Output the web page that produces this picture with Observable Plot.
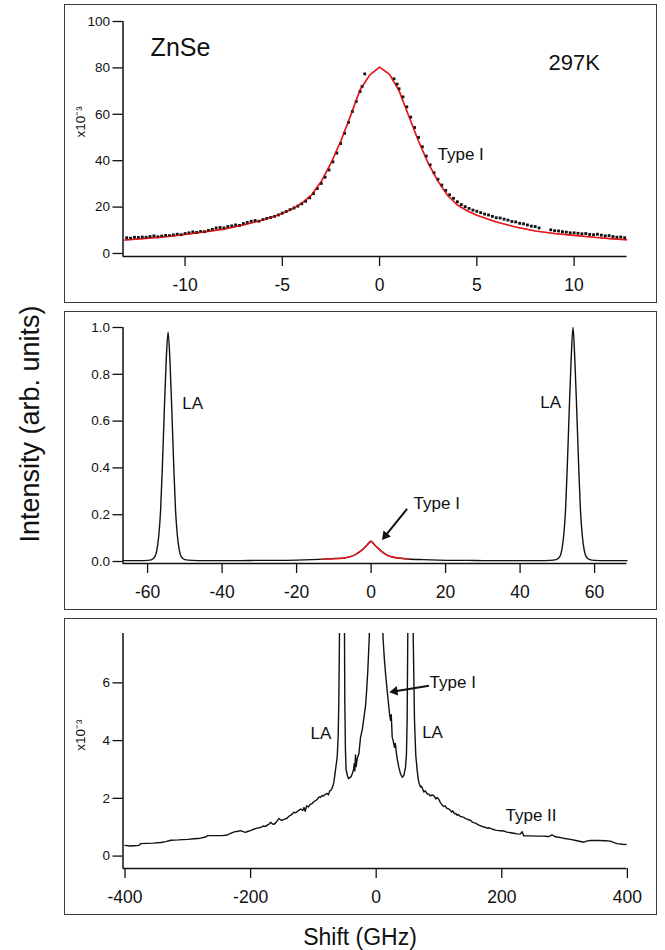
<!DOCTYPE html>
<html><head><meta charset="utf-8">
<script src="https://cdn.jsdelivr.net/npm/d3@7"></script>
<script src="https://cdn.jsdelivr.net/npm/@observablehq/plot@0.6"></script>
<style>
body{margin:0;background:#fff;}
#fig{position:relative;width:665px;height:950px;font-family:"Liberation Sans",Arial,Helvetica,sans-serif;color:#111;}
.panel{position:absolute;left:64px;width:593px;outline:1.5px solid #3a3a3a;outline-offset:-1.5px;}
.panel svg{display:block;}
#ylab{position:absolute;left:30px;top:424px;transform:translate(-50%,-50%) rotate(-90deg);font-size:27px;white-space:nowrap;}
#xlab{position:absolute;left:360px;top:937px;transform:translate(-50%,-50%);font-size:23px;white-space:nowrap;}
</style></head>
<body>
<div id="fig">
  <div class="panel" id="p1" style="top:4px;height:299px"></div>
  <div class="panel" id="p2" style="top:311px;height:299px"></div>
  <div class="panel" id="p3" style="top:618px;height:297px"></div>
  <div id="ylab">Intensity (arb. units)</div>
  <div id="xlab">Shift (GHz)</div>
</div>
<script>
// ---------- Panel 1: ZnSe 297K, Type I (x10^-3) ----------
const p1DataShift = [-13.0,-12.8,-12.6,-12.4,-12.2,-12.0,-11.8,-11.6,-11.4,-11.2,-11.0,-10.8,-10.6,-10.4,-10.2,-10.0,-9.8,-9.6,-9.4,-9.2,-9.0,-8.8,-8.6,-8.4,-8.2,-8.0,-7.8,-7.6,-7.4,-7.2,-7.0,-6.8,-6.6,-6.4,-6.2,-6.0,-5.8,-5.6,-5.4,-5.2,-5.0,-4.8,-4.6,-4.4,-4.2,-4.0,-3.8,-3.6,-3.4,-3.2,-3.0,-2.8,-2.6,-2.4,-2.2,-2.0,-1.8,-1.6,-1.4,-1.2,-1.0,-0.9,-0.76,
  0.74,0.9,1.0,1.2,1.4,1.6,1.8,2.0,2.2,2.4,2.6,2.8,3.0,3.2,3.4,3.6,3.8,4.0,4.2,4.4,4.6,4.8,5.0,5.2,5.4,5.6,5.8,6.0,6.2,6.4,6.6,6.8,7.0,7.2,7.4,7.6,7.8,8.0,8.2,
  8.8,9.0,9.2,9.4,9.6,9.8,10.0,10.2,10.4,10.6,10.8,11.0,11.2,11.4,11.6,11.8,12.0,12.2,12.4,12.6];
const p1DataIntensity = [6.8,6.6,7.0,6.9,7.1,7.0,7.3,7.6,7.2,7.5,7.8,7.7,8.0,8.3,8.1,8.6,8.9,9.3,9.1,9.5,9.4,9.9,10.4,11.0,11.2,11.0,11.6,11.9,12.3,12.1,12.9,13.4,13.9,14.2,13.9,14.6,15.1,15.5,16.0,16.6,17.4,18.1,18.9,19.6,20.4,21.4,22.5,24.0,25.8,28.0,30.2,32.9,36.0,39.5,43.3,47.4,51.8,56.5,61.2,65.5,69.8,72.0,77.4,
  75.3,73.0,71.0,67.5,63.2,58.8,54.3,50.0,46.0,42.0,38.2,34.8,32.0,29.5,27.2,25.3,23.8,22.3,21.1,20.2,19.4,18.7,18.2,17.6,17.0,16.6,16.0,15.4,15.3,14.8,14.4,13.8,13.6,13.0,12.8,12.3,11.8,11.6,11.0,
  10.2,9.8,9.7,9.4,9.2,8.9,8.9,8.7,8.5,8.6,8.2,8.1,8.3,7.9,7.6,7.7,7.3,7.0,7.1,6.8];
const p1FitShift = [-13.1,-12,-11,-10,-9,-8,-7,-6,-5,-4.5,-4,-3.5,-3,-2.5,-2,-1.5,-1,-0.5,0,0.5,1,1.5,2,2.5,3,3.5,4,4.5,5,6,7,8,9,10,11,12,12.7];
const p1FitIntensity = [5.8,6.5,7.2,8.2,9.3,10.5,12.3,14.4,17.2,19.2,21.7,25.2,31.0,38.9,48.3,59.2,70.6,77.0,80.3,77.3,70.2,59.3,48.5,38.9,31.2,25.0,20.9,18.4,16.5,13.6,11.4,9.7,8.6,7.8,7.0,6.3,5.9];
const p1XTicks = [-10,-5,0,5,10];
const p1YTicks = [0,20,40,60,80,100];
const p1Labels = [
  {x:-11.77, y:88.4, text:"ZnSe", size:25},
  {x:8.69, y:82.3, text:"297K", size:22},
  {x:2.98, y:42.7, text:"Type I", size:17}
];

// ---------- Panel 2: full scale ----------
const p2DataShift = [-66.6,-64,-62,-60,-59,-58,-57.5,-57,-56.5,-56,-55.5,-55,-54.5,-54,-53.5,-53,-52.5,-52,-51.5,-51,-50,-48,-45,-40,-35,-30,-25,-20,-16,-13,-10,-8,-6,-4,-3,-2,-1,0,1,2,3,4,6,8,10,14,18,22,26,30,35,40,45,48,49.7,50.7,51.2,51.7,52.2,52.7,53.2,53.7,54.2,54.7,55.2,55.7,56.2,56.7,57.2,57.7,58.7,60,63,66,68.7];
const p2DataIntensity = [0.004,0.004,0.004,0.005,0.007,0.022,0.05,0.11,0.22,0.42,0.65,0.86,0.98,0.86,0.65,0.42,0.22,0.11,0.05,0.022,0.008,0.005,0.004,0.004,0.004,0.005,0.005,0.006,0.008,0.010,0.013,0.014,0.019,0.031,0.042,0.055,0.072,0.087,0.070,0.055,0.041,0.030,0.018,0.014,0.011,0.008,0.006,0.005,0.005,0.004,0.004,0.004,0.004,0.005,0.008,0.022,0.05,0.11,0.22,0.42,0.65,0.86,1.0,0.86,0.65,0.42,0.22,0.11,0.05,0.022,0.008,0.005,0.004,0.004,0.004];
const p2FitShift = [-13,-10,-8,-6,-5,-4,-3,-2,-1,-0.5,0,0.5,1,2,2.5,3,4,5,6,8,10];
const p2FitIntensity = [0.010,0.012,0.013,0.019,0.024,0.032,0.043,0.055,0.072,0.080,0.087,0.079,0.070,0.055,0.047,0.041,0.030,0.022,0.018,0.014,0.011];
const p2XTicks = [-60,-40,-20,0,20,40,60];
const p2YTicks = [0,0.2,0.4,0.6,0.8,1.0];
const p2Labels = [
  {x:-50.7, y:0.676, text:"LA"},
  {x:45.4, y:0.68, text:"LA"},
  {x:11.4, y:0.247, text:"Type I"}
];
const p2Arrows = [{x1:9.66, y1:0.225, x2:2.68, y2:0.087}];

// ---------- Panel 3: wide range (x10^-3) ----------
const p3DataShift = [-400,-392,-385,-378,-375,-365,-355,-343,-335,-327,-315,-300,-290,-280,-272,-268,-255,-245,-237,-232,-226,-220,-216,-212,-208,-204,-200,-195,-190,-184,-180,-176,-173,-170,-168,-165,-163,-160,-158,-155,-152,-150,-146,-142,-139,-136,-133,-131,-128,-125,-122,-120,-117,-115,-113,-111,-108,-105,-102,-99,-96,-94,-91,-89,-86,-84,-81,-78,-76,-74,-72,-70,-68,-67,-65,-62,-60.5,-59.5,-58.5,-57,-55.5,-54.5,-53.5,-52,-50.5,-50,-49,-48,-46,-44,-42,-40,-38,-36,-35,-34,-33,-32,-30,-27.5,-25,-22,-19.5,-17,-15,-13.3,-11,-9,-6,-3,-1,0,
  1,3,6,9,11,13.2,15,17.5,19.5,21.2,22.8,24,25.5,27,29.1,30.5,32.3,34,36,38.7,41.4,44,46.7,48.2,49.3,50.3,52,53.2,54.2,55.2,57,58.9,61,63,65.3,67,68,70.5,72,73.2,75.8,78,81.2,84,86.5,89,91.7,95,97,99.7,102,104,107.6,110,112,115,118.3,120,122,125,127,129,131,134,137,139.5,142,145,148,150.2,153,155,158,160.8,163,166,169,171.3,174,176,179,182,185,187,190,192.7,198,203.2,208,213.9,219,224.5,229,232.5,235,245,256.4,266,274,277.5,280,284,288.2,298,309.4,320,330.6,335,341.2,355,365,373,380,383.8,392,399.7];
const p3DataIntensity = [0.37,0.35,0.36,0.37,0.43,0.44,0.45,0.47,0.50,0.55,0.56,0.58,0.60,0.62,0.66,0.71,0.71,0.71,0.73,0.79,0.84,0.86,0.88,0.85,0.82,0.86,0.88,0.93,0.97,0.99,1.04,1.03,1.08,1.12,1.17,1.11,1.10,1.15,1.21,1.30,1.25,1.24,1.28,1.31,1.38,1.42,1.47,1.52,1.50,1.56,1.60,1.63,1.58,1.68,1.55,1.74,1.70,1.79,1.82,1.89,1.93,1.96,2.05,2.03,2.10,2.08,2.14,2.17,2.12,2.26,2.28,2.36,2.50,2.62,2.95,3.45,4.2,5.4,7.6,40,300,980,300,40,7.8,5.4,3.7,3.0,2.8,2.68,2.72,2.75,2.86,3.0,3.2,2.95,3.5,3.1,3.4,3.55,4.1,4.4,4.8,5.2,5.8,6.45,7.6,10,20,45,75,85,
  75,45,20,9,7.5,6.77,6.3,5.73,5.3,4.93,4.7,4.9,4.12,4.0,3.77,3.9,3.54,3.3,3.08,2.85,2.73,2.79,3.08,3.54,4.7,7.7,40,300,1000,300,40,7.7,4.7,3.5,2.97,2.65,2.55,2.39,2.42,2.37,2.22,2.26,2.16,2.14,2.08,2.12,2.09,1.98,2.03,1.97,1.86,1.80,1.72,1.74,1.66,1.64,1.58,1.52,1.57,1.46,1.48,1.41,1.44,1.37,1.36,1.34,1.30,1.28,1.25,1.24,1.18,1.16,1.14,1.11,1.08,1.05,1.03,1.0,1.0,0.97,0.98,0.96,0.93,0.92,0.90,0.89,0.88,0.87,0.83,0.81,0.79,0.77,0.76,0.84,0.70,0.70,0.69,0.69,0.68,0.70,0.74,0.68,0.66,0.62,0.58,0.53,0.48,0.52,0.54,0.54,0.53,0.52,0.46,0.43,0.41,0.40];
const p3XTicks = [-400,-200,0,200,400];
const p3YTicks = [0,2,4,6];
const p3Labels = [
  {x:-104.6, y:4.26, text:"LA"},
  {x:73.2, y:4.27, text:"LA"},
  {x:85, y:6.02, text:"Type I"},
  {x:205.9, y:1.41, text:"Type II"}
];
const p3Arrows = [{x1:84, y1:5.9, x2:18.5, y2:5.67}];

// ---------- rendering ----------
const FONT = '"Liberation Sans", Arial, Helvetica, sans-serif';
const INK = "#111";
const RED = "#e8191c";
const W = 593, ML = 58.5, MR = 30.5;
const zip = (xs, ys) => xs.map((x, i) => ({x, y: ys[i]}));

// Arrow with a filled triangular head: shaft as link, head as rotated triangle symbol
function arrowMarks(arrows, xDomain, yDomain, height, marginTop, marginBottom) {
  const kx = (W - ML - MR) / (xDomain[1] - xDomain[0]);
  const ky = (height - marginTop - marginBottom) / (yDomain[1] - yDomain[0]);
  const tip = 7, back = 9;
  const parts = arrows.map(a => {
    const px = (a.x2 - a.x1) * kx, py = -(a.y2 - a.y1) * ky;
    const len = Math.hypot(px, py), ux = px / len, uy = py / len;
    return {
      x1: a.x1, y1: a.y1,
      xs: a.x2 - back * ux / kx, ys: a.y2 + back * uy / ky,
      xc: a.x2 - tip * ux / kx, yc: a.y2 + tip * uy / ky,
      rot: Math.atan2(ux, -uy) * 180 / Math.PI
    };
  });
  return [
    Plot.link(parts, {x1: "x1", y1: "y1", x2: "xs", y2: "ys", stroke: INK, strokeWidth: 2}),
    Plot.dot(parts, {x: "xc", y: "yc", symbol: "triangle2", r: 4.6, fill: INK, stroke: null, rotate: "rot"})
  ];
}

function panel({xDomain, yDomain, xTicks, yTicks, yFormat, height, marginTop, marginBottom, unitY, marks}) {
  const extra = [];
  if (unitY != null) {
    extra.push(Plot.text([{t: "x10\u207B\u00B3", y: unitY}], {
      frameAnchor: "left", y: "y", text: "t", dx: -42, rotate: -90, fontSize: 13.5, fill: INK
    }));
  }
  return Plot.plot({
    width: W, height, marginLeft: ML, marginRight: MR, marginTop, marginBottom,
    style: {fontFamily: FONT, color: INK, background: "transparent", overflow: "visible"},
    x: {domain: xDomain},
    y: {domain: yDomain},
    marks: [
      Plot.axisX(xTicks, {tickSize: 10, tickPadding: 12, fontSize: 17.5, label: null, strokeWidth: 1.3, tickFormat: d => String(d)}),
      Plot.axisY(yTicks, {tickSize: 10, tickPadding: 3, fontSize: 13.5, label: null, tickFormat: yFormat, strokeWidth: 1.3}),
      Plot.ruleY([yDomain[0]], {stroke: INK, strokeWidth: 1.5}),
      Plot.ruleX([xDomain[0]], {stroke: INK, strokeWidth: 1.5}),
      ...extra,
      ...marks
    ]
  });
}

document.getElementById("p1").append(panel({
  xDomain: [-13.19, 12.72], yDomain: [-1.3, 100], xTicks: p1XTicks, yTicks: p1YTicks,
  yFormat: d => String(d), height: 299, marginTop: 17, marginBottom: 47, unitY: 50,
  marks: [
    Plot.line(zip(p1FitShift, p1FitIntensity), {x: "x", y: "y", stroke: RED, strokeWidth: 1.6}),
    Plot.dot(zip(p1DataShift, p1DataIntensity), {x: "x", y: "y", symbol: "square", r: 1.6, fill: INK, stroke: null}),
    Plot.line(zip(p1FitShift, p1FitIntensity), {x: "x", y: "y", stroke: RED, strokeWidth: 1.2, strokeOpacity: 0.6}),
    Plot.text(p1Labels, {x: "x", y: "y", text: "text", fontSize: d => d.size, textAnchor: "start", fill: INK})
  ]
}));

const p2Opts = {xDomain: [-66.6, 68.7], yDomain: [-0.0085, 1.0], height: 299, marginTop: 16, marginBottom: 47};
document.getElementById("p2").append(panel({
  ...p2Opts, xTicks: p2XTicks, yTicks: p2YTicks, yFormat: d3.format(".1f"),
  marks: [
    Plot.line(zip(p2DataShift, p2DataIntensity), {x: "x", y: "y", stroke: INK, strokeWidth: 1.4, curve: "monotone-x"}),
    Plot.line(zip(p2FitShift, p2FitIntensity), {x: "x", y: "y", stroke: RED, strokeWidth: 1.5, curve: "monotone-x"}),
    ...arrowMarks(p2Arrows, p2Opts.xDomain, p2Opts.yDomain, p2Opts.height, p2Opts.marginTop, p2Opts.marginBottom),
    Plot.text(p2Labels, {x: "x", y: "y", text: "text", fontSize: 17, textAnchor: "start", fill: INK})
  ]
}));

const p3Opts = {xDomain: [-403.2, 399.4], yDomain: [-0.43, 7.71], height: 297, marginTop: 15, marginBottom: 47};
document.getElementById("p3").append(panel({
  ...p3Opts, xTicks: p3XTicks, yTicks: p3YTicks, yFormat: d => String(d), unitY: 3.65,
  marks: [
    Plot.line(zip(p3DataShift, p3DataIntensity), {x: "x", y: "y", stroke: INK, strokeWidth: 1.4, clip: true}),
    ...arrowMarks(p3Arrows, p3Opts.xDomain, p3Opts.yDomain, p3Opts.height, p3Opts.marginTop, p3Opts.marginBottom),
    Plot.text(p3Labels, {x: "x", y: "y", text: "text", fontSize: 17, textAnchor: "start", fill: INK})
  ]
}));
</script>
</body></html>
